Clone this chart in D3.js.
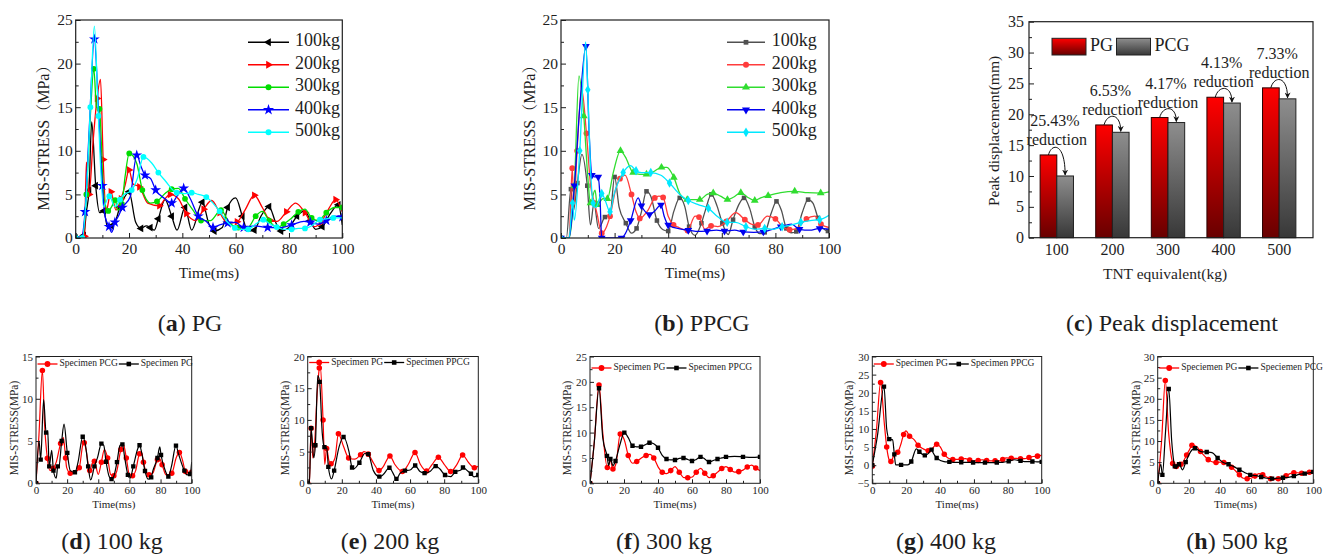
<!DOCTYPE html>
<html><head><meta charset="utf-8">
<script src="https://cdn.jsdelivr.net/npm/d3@7"></script>
<style>
html,body{margin:0;padding:0;background:#fff;}
svg{display:block;}
text{font-family:'Liberation Serif','Times New Roman','Noto Serif CJK SC','Noto Sans CJK SC',serif;fill:#1e1e1e;}
</style></head><body>
<svg id="fig" width="1326" height="556"></svg>
<script>
// ---------- shared tick values ----------
const timeTicks = [0, 20, 40, 60, 80, 100];
const timeMinor = [10, 30, 50, 70, 90];
const massLabels = ["100kg", "200kg", "300kg", "400kg", "500kg"];

// ---------- (a) PG: Mises stress histories [time ms, stress MPa] ----------
const pg100 = [[0,0],[2,0],[3,0.3],[4,3],[5,5.5],[6,13.3],[7.5,6],[9,2.9],[10.5,3.1],[12,1.2],[13.5,1.4],[15,2],[16.5,3.5],[18,4.5],[20,5.3],[22.5,1.8],[24.5,1.1],[26.5,1.4],[28,1.2],[29.5,0.9],[31,2.2],[33.5,4.4],[36,2.5],[38,0.9],[41,3.5],[43.5,0.9],[47.5,4.1],[50,1.6],[52,0.8],[55,1.2],[57,3.5],[60,4.6],[62.5,2.5],[64.5,0.8],[67,0.9],[69.5,2.5],[72.5,3.6],[75,1.8],[77,0.8],[80,1.2],[83,2.5],[86,3.1],[88,2],[90,1],[92.5,1.3],[95.5,2.8],[98.5,3.8],[100,1.5]];
const pg200 = [[0,0],[2,0],[3.3,0.2],[4,8.7],[5,5],[6.5,11],[8,16],[9.3,18.2],[10.3,9],[11.4,3.05],[13.2,5.3],[15.1,3.2],[17,4.5],[18.5,6],[20,7.8],[21.5,6.2],[23.9,5.85],[27,4],[31.4,3.7],[33.5,4.5],[35.4,5],[38.5,4.5],[41.5,2.8],[45,2],[48,3.3],[51,4.3],[54,2.9],[57,1.7],[60.5,1.85],[63.5,3.2],[67,4.9],[70,3.5],[73,2],[75.5,1.9],[79,3],[82.5,4],[86,2.9],[89.5,1.3],[92,1.8],[95,3.4],[97.5,4.4],[100,3]];
const pg300 = [[0,0],[2.5,0],[4,5],[5.5,14],[6.8,19.4],[7.8,15],[8.9,14.8],[10.5,5],[12.2,3.1],[13.5,3.6],[14.8,4.35],[15.8,3.2],[17.3,3.9],[18.5,7],[20.1,9.7],[22.9,8.55],[25,5.5],[28.1,4],[30.5,4.2],[33.5,5.1],[36,5.6],[38.5,5.7],[41,4.5],[44,3.2],[47,2],[50.5,2],[54.5,3.2],[57.5,1.8],[61,1.2],[64.7,1.25],[67.5,2.5],[70,3.05],[72.5,2],[75.5,1.2],[78,1.6],[80.7,2.2],[83.5,3],[86,3.3],[88.5,2.3],[91,2],[94,2.9],[97,3.5],[100,3.5]];
const pg400 = [[0,0],[2,0],[3.5,3],[5,12],[7,22.8],[8.5,15],[10,6],[11,2.5],[12.5,1.3],[13.5,0.65],[14.7,1.8],[16,2.5],[17.5,3.5],[20.4,4.7],[22.9,9.5],[24.5,8.2],[26,7.2],[28.1,6.8],[30,5.5],[33.5,4.5],[36,4],[38,4.8],[40.5,5.7],[43,4.5],[46,2.5],[49,1.9],[51.5,1.2],[54,1.5],[57,1.7],[60,1.8],[63,1.2],[67,1.4],[72,1.2],[77,1.2],[81,1.5],[85.6,1.9],[88,1.8],[91,1.6],[94,2],[97,2.5],[100,2.4]];
const pg500 = [[0,0],[1.5,0],[2.5,0],[4,5],[5.5,15],[7,24.3],[8.5,14],[10.4,3.6],[12.6,4.8],[14.7,3.6],[16.6,4.4],[17.9,4.9],[21,5.5],[23.1,6.8],[25.4,9.3],[28.5,8.6],[31,7.5],[33.5,6.6],[37.9,5.2],[41,5.1],[43.5,5.2],[46,5],[49,4.7],[51.5,4],[54,3.05],[57,1.8],[59.7,1.15],[62,1],[64.7,1],[67.5,1.6],[70.4,2.1],[73,1.6],[75.4,1.25],[78,1],[81,1],[83.5,1.1],[86,1.1],[89,1.5],[91.6,2.1],[94,2.2],[96.6,2.3],[100,2.3]];

// ---------- (b) PPCG ----------
const ppcg100 = [[0,0],[2,0],[3.7,5.6],[4.5,3],[6.1,6.3],[7.8,9.6],[9.8,6],[11,1.5],[12.3,4],[14,1.1],[16.4,2.4],[18.3,2.6],[20,7],[21.7,3.5],[24.2,1.7],[26.3,0.55],[28.2,1.1],[30,3],[31.9,5.35],[33.5,4.8],[35.8,2],[38.1,0.95],[40,0.8],[42.1,3.05],[44.3,4.6],[46.2,3.6],[47.8,1.3],[50,0.3],[52.4,1.7],[53.9,3.2],[56.1,5],[58.3,3.6],[60.2,1.7],[62.4,0.4],[64.2,2.1],[66.3,3.8],[68.3,4.6],[70.4,3.4],[72.3,1.3],[74.2,0.5],[76,0.65],[78.5,2.9],[80.4,4.2],[82.2,3.2],[84.1,1.1],[86,0.6],[87.8,0.75],[90,2.9],[92.2,4.4],[94,4],[95.9,2.3],[97.8,1.1],[99.6,0.8]];
const ppcg200 = [[0,0],[3,0],[4.2,8],[4.8,3.6],[6,10],[7.7,17.1],[9.5,12],[11.1,5.9],[12.5,4],[13.5,2.7],[15.2,0.55],[17,1.3],[18.3,2.5],[20.5,5.7],[22,6.8],[23.9,7.2],[26.3,5],[28,3],[29.4,2.25],[32.5,3.2],[35,4.6],[36.5,4.8],[38.1,4.65],[40,2.5],[42,1.5],[44,1.2],[47.2,0.85],[50,2.5],[51.5,2.4],[53.7,1],[56,1.4],[58.5,1.3],[61.7,1.9],[65.2,2.9],[68.6,2.1],[71,1.6],[73.5,1.5],[77,2.5],[80,2.2],[83,1.2],[85.3,0.95],[88,1.1],[91.6,2.2],[94.7,2.5],[97,1.6],[100,1.2]];
const ppcg300 = [[0,0],[3,0],[5,6],[6.7,18.6],[8.5,14],[10,7],[11,4],[12.7,5.5],[13.5,3.8],[15.6,4.5],[17.3,4.5],[19.5,7.5],[22.2,10],[24,9.3],[26.9,7.5],[29.5,7.3],[31.9,7.3],[34.5,7.6],[37.5,8.1],[39.5,8.1],[42.1,6.95],[44.5,5],[47.1,4.4],[49.5,4.4],[51.8,4.4],[54.5,5],[56.8,5.15],[59.5,4.8],[62.1,4.4],[64.5,4.7],[67.1,5.2],[69.5,4.7],[72.3,4.3],[74.5,4.6],[77.3,4.85],[82,5.2],[87.2,5.35],[92,5.2],[96.9,5.15],[100,5.3]];
const ppcg400 = [[0,0],[3,0],[5,6],[7,15],[9.3,22],[10.5,12],[11.5,7.2],[12.5,7],[13.9,7],[14.5,5],[15.2,0],[19,0],[22.6,0],[24,0.5],[26,2],[28.8,4.6],[30,3.7],[31.5,3],[33,2.7],[35,3.1],[37.3,3.8],[38.5,2.5],[40,1.5],[44.3,1.05],[47.5,0.9],[51.5,0.75],[54.5,0.8],[58,0.9],[61,0.8],[64.8,0.9],[68,0.7],[71.9,0.65],[75.5,0.7],[78.9,1],[82,1.3],[86,1.6],[89,1],[92.8,0.9],[96.5,1.1],[100,1]];
const ppcg500 = [[0,0],[3,0],[4.3,4],[5,2.05],[7,10],[9.2,22.5],[10,17],[11,8],[12,4],[13,3.5],[15.2,5.1],[16.5,4.3],[18.3,3],[19.8,5],[23.2,7.5],[26,8.3],[28,7.7],[30,7.5],[33.5,7.5],[37.3,7.2],[40.5,6.3],[44.3,5],[47.5,4.3],[51.4,3.8],[55,3.4],[58.6,2.4],[62,1.8],[65.2,1.8],[69,1.3],[72.3,1],[76,1.1],[79.1,1],[82.5,1.3],[86,1.5],[89.5,1.8],[93,2],[96.5,2.1],[100,2.6]];

// ---------- (c) peak displacement ----------
const tntCategories = ["100", "200", "300", "400", "500"];
const peakPG = [13.41, 18.27, 19.47, 22.76, 24.28];
const peakPCG = [10.0, 17.08, 18.66, 21.82, 22.50];
const reductionText = ["25.43%", "6.53%", "4.17%", "4.13%", "7.33%"];
const dispTicks = [0, 5, 10, 15, 20, 25, 30, 35];

// ---------- (d)-(h) paired comparisons ----------
const d100PCG = [[0,0],[1.9,5.7],[4.1,13.35],[5.5,7],[7.3,2.95],[9,1.5],[11.1,1.77],[13,2.5],[15.8,4.7],[17.6,5.4],[19,3],[19.7,1.85],[22,1.2],[25,1.3],[27.8,1.85],[30,4.5],[31,4.8],[32.1,4],[34.5,1.5],[36,2.3],[37.5,2.6],[40,1.06],[42,2.5],[43.9,4],[46,3],[48,1],[50,0.9],[51.8,1.4],[54.5,4],[56.1,4.6],[58,3],[60,1],[62,0.9],[64,1.5],[66.5,3.5],[67.9,3.6],[69,2.5],[71,1.2],[72.6,1],[75,1.2],[78,2.8],[79.2,2.95],[81,2.2],[83.5,1],[87.2,1.2],[90,3],[92.1,3.65],[94,2.8],[96,1.4],[98,1.2],[100,1.3]];
const d100PG = [[0,0],[2,5],[3,2.8],[4.9,9.9],[6.5,6],[7.5,6.2],[8.5,2],[10.1,3.9],[11.2,1.5],[13,0.6],[14,2],[14.6,1.85],[16.5,5],[18,7],[20.1,3.6],[22,1.5],[25,1.3],[27,2.5],[30,5.5],[31.8,4.5],[33.5,2],[35.1,0.4],[37.5,2],[39.6,3.1],[42,4.7],[43.5,4.5],[45,2.55],[47,0.8],[48.5,0.5],[49.7,0.7],[52,2.5],[54,4.5],[55.5,4.6],[57,3],[59,1],[60.4,0.6],[62.5,2],[65.3,4.05],[66.5,4.5],[68,3.5],[70,1.45],[72,0.5],[74,0.7],[75,1.45],[78,3],[79.5,4.3],[80.3,3.35],[83,1.5],[85,0.8],[87,2],[89.9,4.45],[91.5,3.5],[95.3,1.5],[97,1],[99,1.1],[100,2.5]];
const e200PG = [[0,0],[1,0.5],[2,8.7],[3,4],[4,6],[5.5,14],[6.8,18.2],[7.2,19],[9,10],[10,3],[11.1,5.5],[12.5,3.5],[13.7,3.1],[16,4],[18,7.8],[20.9,5.9],[24,4],[27.7,3.8],[31,4.5],[33,5],[35.5,4.6],[39,3],[41.8,2],[44,2.5],[48.2,4.3],[51,3],[55.5,1.85],[59,3],[62.9,4.85],[66,3],[69.7,1.95],[73,3],[76.6,4.1],[80,3],[83.8,1.85],[87.5,3],[90.8,4.45],[94.5,3.2],[97.7,2.45],[100,2.7]];
const e200PPCG = [[0,0],[1,0],[2,8.7],[3.5,4],[4.5,6],[5.9,17],[7,16],[8.5,8],[9.8,5.7],[11.2,5.5],[12.1,2.6],[14,0.7],[15.5,2],[18.4,5.75],[21,7.3],[24.2,5],[26,2.5],[27,2.3],[30.3,3.25],[33.5,4.7],[35.5,4.6],[38.5,2],[42,1.05],[44,1.3],[47.9,2.45],[50,1.6],[52,0.7],[54.1,1.55],[57,2],[60,2.1],[63,2.8],[65.8,1.85],[68.5,1.6],[71.7,1.85],[75,2.7],[77.5,2.25],[80.5,1.3],[83.8,1.05],[86.5,1.8],[89.8,2.1],[91,2.5],[93.5,2],[95.7,1.5],[97.5,1],[100,1.3]];
const f300PG = [[0,0],[2.5,8],[5.3,19.4],[7.5,10],[10.2,3.1],[12,4.5],[13.5,2.8],[15.3,3.9],[17.8,9.7],[20.2,8.55],[22.5,5.5],[25.1,3.95],[27.5,4.3],[30.4,5.05],[33,5.5],[35.3,5.7],[37.5,5],[40.2,3.15],[42.5,2.2],[45.1,1.9],[47.5,2.5],[50,3.3],[52.5,2.2],[55.3,1.1],[57.5,1.1],[60.2,1.25],[62.5,2.2],[65.1,2.95],[67.5,2],[70.2,1.1],[72.5,1.5],[75.1,2.2],[77.5,2.9],[80,3.3],[82.5,2.7],[85,2.2],[87.5,2.3],[90,2.6],[92.5,3.2],[95.1,3.6],[97.5,3],[100,2.5]];
const f300PPCG = [[0,0],[2.5,8],[5.3,18.75],[7.5,9],[10,5.4],[11,3.5],[12,4.8],[13.5,3.5],[15,4.4],[17.5,7.5],[20.2,10],[22.5,9],[25,7.4],[27.5,7.2],[30,7.2],[32.5,7.6],[35,8],[37.5,7.8],[40,7],[42.5,5.5],[45,4.8],[47.5,4.6],[50,4.6],[52.5,4.9],[55,5],[57.5,4.7],[60,4.4],[62.5,4.7],[65,5.2],[67.5,4.8],[70,4.2],[72.5,4.5],[75,4.8],[77.5,5],[80,5.2],[85,5.3],[90,5.2],[95,5.1],[100,5.2]];
const g400PG = [[0,-0.3],[2.5,10],[4.9,22.8],[7,12],[8.5,5],[10,1.45],[11,1],[13,3],[15,3.55],[17,6],[18.5,8.5],[19.9,9.45],[22,8],[24.8,7],[27,5.5],[30.1,4.5],[33,4],[35,4.4],[38,5.8],[40,5.1],[42.5,3],[44.9,1.9],[47.5,1.6],[50,1.6],[52.5,1.7],[55,1.8],[57.5,1.4],[60,1.2],[62.5,1.3],[65,1.5],[67.5,1.3],[70,1.2],[72.5,1.2],[75,1.2],[77,1.6],[79,2],[82,1.9],[85,1.9],[87.5,1.8],[90,1.8],[92.5,2.1],[95,2.4],[97.5,2.5],[100,2.8]];
const g400PPCG = [[0,0],[3,8],[6.9,21.7],[8.5,10],[10,7.2],[12,7],[13,3],[13.8,0.1],[17,0.1],[20.9,0.1],[23,1],[26,4.5],[27.8,3.7],[29.5,3],[31,2.7],[33,3.2],[35,4.3],[35.5,3.8],[38,2],[42.3,1],[45.5,0.9],[49,0.8],[52.5,0.8],[56,0.8],[59.5,0.75],[63,0.7],[66.5,0.7],[70,0.7],[73.5,0.75],[77,0.8],[80.5,1.1],[84,1.5],[87.5,1.2],[91,1],[94.5,1],[98,0.9],[100,0.9]];
const h500PG = [[0,0],[2.5,10],[4.9,24.3],[7,12],[9.6,4.7],[11,3.5],[12,4],[14,5],[15,4.5],[17,5.5],[18.6,6.7],[20.5,8],[22,9],[25,8.7],[27.5,7.5],[30,6.5],[32.5,5.6],[34.9,5.1],[37.5,4.9],[40,5],[42.5,4.9],[45,4.7],[47.5,3.8],[50.1,2.9],[52.5,2],[55,1.2],[57.5,1.1],[60,1.2],[62.5,1.7],[65,2.3],[67.5,2],[70,1.5],[72.5,1.1],[75,0.9],[77.5,1.1],[80,1.4],[82.5,1.8],[85,2.3],[87.5,2.5],[90,2.5],[92.5,2.4],[95,2.3],[97.5,2.6],[100,3]];
const h500PCG = [[0,0],[2,4.5],[3,2],[5,12],[7.1,22.3],[9,10],[11,4],[12,3.5],[13.7,4.5],[16,3.2],[18,5],[21.2,7.5],[24,8.3],[27.8,7.5],[31.5,7.4],[34.9,7.25],[38.5,6],[41.8,5],[45.5,4.5],[49,3.95],[52.5,3.2],[56.1,2.5],[59.5,2],[63.2,1.8],[66.5,1.5],[70,1.2],[73.5,1.1],[77,1.2],[80.5,1.3],[84,1.4],[87.5,1.7],[91,2.1],[94.5,2.3],[98,2.5],[100,2.7]];

// ================= drawing =================
const svg = d3.select("#fig");
const ink = "#1e1e1e";
const defs = svg.append("defs");

function styleAxis(sel, font, sw) {
  sel.select(".domain").remove();
  sel.selectAll("line").attr("stroke", ink).attr("stroke-width", sw);
  sel.selectAll("text").attr("font-size", font).attr("fill", ink);
}

function drawAxes(g, x, y, a) {
  const bottom = y.range()[0], left = x.range()[0];
  const mk = (axis, tr) => g.append("g").attr("transform", tr).call(axis);
  styleAxis(mk(d3.axisBottom(x).tickValues(a.xMajor).tickSize(-a.major).tickSizeOuter(0).tickPadding(a.xPad), `translate(0,${bottom})`), a.font, a.sw);
  styleAxis(mk(d3.axisBottom(x).tickValues(a.xMinor).tickSize(-a.minor).tickSizeOuter(0).tickFormat(""), `translate(0,${bottom})`), a.font, a.sw);
  styleAxis(mk(d3.axisLeft(y).tickValues(a.yMajor).tickSize(-a.major).tickSizeOuter(0).tickPadding(a.yPad), `translate(${left},0)`), a.font, a.sw);
  styleAxis(mk(d3.axisLeft(y).tickValues(a.yMinor).tickSize(-a.minor).tickSizeOuter(0).tickFormat(""), `translate(${left},0)`), a.font, a.sw);
  const [x0, x1] = x.range(), [y0, y1] = y.range();
  g.append("rect").attr("x", x0).attr("y", y1).attr("width", x1 - x0).attr("height", y0 - y1)
    .attr("fill", "none").attr("stroke", ink).attr("stroke-width", a.frame);
}

function halfSteps(ticks) {
  const out = [];
  for (let i = 0; i < ticks.length - 1; i++) out.push((ticks[i] + ticks[i + 1]) / 2);
  return out;
}

function symbolSize(s, base) {
  return s.symbol === d3.symbolSquare ? base * 0.8 : s.symbol === d3.symbolStar ? base * 1.4 : base;
}

function drawLinePanel(c) {
  const x = d3.scaleLinear().domain([0, 100]).range([c.left, c.right]);
  const y = d3.scaleLinear().domain([c.yTicks[0], c.yTicks[c.yTicks.length - 1]]).range([c.bottom, c.top]);
  const g = svg.append("g");
  const clipId = "clip-" + c.id;
  defs.append("clipPath").attr("id", clipId).append("rect")
    .attr("x", c.left).attr("y", c.top - 3).attr("width", c.right - c.left).attr("height", c.bottom - c.top + 3);
  const plot = g.append("g").attr("clip-path", `url(#${clipId})`);
  const line = d3.line().x(d => x(d[0])).y(d => y(d[1])).curve(d3.curveMonotoneX);
  c.series.forEach(s => {
    plot.append("path").datum(s.values).attr("d", line).attr("fill", "none")
      .attr("stroke", s.color).attr("stroke-width", c.lw).attr("stroke-linejoin", "round");
    plot.selectAll(null).data(s.values.filter((d, i) => i % c.stride === 0)).join("path")
      .attr("transform", d => `translate(${x(d[0])},${y(d[1])}) rotate(${s.rot || 0})`)
      .attr("d", d3.symbol().type(s.symbol).size(symbolSize(s, c.msize))).attr("fill", s.color);
  });
  drawAxes(g, x, y, {
    xMajor: timeTicks, xMinor: timeMinor, yMajor: c.yTicks, yMinor: halfSteps(c.yTicks),
    major: c.major, minor: c.minor, xPad: c.xPad, yPad: c.yPad, font: c.tickFont, sw: 1, frame: c.frame
  });
  // axis titles
  g.append("text").attr("x", (c.left + c.right) / 2).attr("y", c.xTitleY).attr("text-anchor", "middle")
    .attr("font-size", c.titleFont).text("Time(ms)");
  g.append("text").attr("transform", `translate(${c.yTitleX},${c.yTitleY}) rotate(-90)`).attr("text-anchor", "middle")
    .attr("dominant-baseline", "middle").attr("font-size", c.yTitleFont).text(c.yTitle);
  return { g, x, y };
}

// ---- legends ----
function verticalLegend(g, series, L) {
  series.forEach((s, i) => {
    const yy = L.y0 + i * L.dy;
    g.append("line").attr("x1", L.x1).attr("x2", L.x2).attr("y1", yy).attr("y2", yy)
      .attr("stroke", s.color).attr("stroke-width", 1.5);
    g.append("path").attr("transform", `translate(${(L.x1 + L.x2) / 2},${yy}) rotate(${s.rot || 0})`)
      .attr("d", d3.symbol().type(s.symbol).size(symbolSize(s, 28))).attr("fill", s.color);
    g.append("text").attr("x", L.tx).attr("y", yy).attr("dominant-baseline", "middle")
      .attr("font-size", L.font).text(s.name);
  });
}

function rowLegend(g, series, L) {
  let cx = L.x;
  series.forEach(s => {
    g.append("line").attr("x1", cx).attr("x2", cx + 20).attr("y1", L.y).attr("y2", L.y)
      .attr("stroke", s.color).attr("stroke-width", 1.3);
    g.append("path").attr("transform", `translate(${cx + 10},${L.y})`)
      .attr("d", d3.symbol().type(s.symbol).size(symbolSize(s, 26))).attr("fill", s.color);
    const t = g.append("text").attr("x", cx + 22).attr("y", L.y).attr("dominant-baseline", "middle")
      .attr("font-size", L.font).text(s.name);
    cx += 22 + t.node().getComputedTextLength() + 1;
  });
}

// ---------- (a) ----------
const aSeries = [
  { name: massLabels[0], values: pg100, color: "#000000", symbol: d3.symbolTriangle, rot: -90 },
  { name: massLabels[1], values: pg200, color: "#ff0000", symbol: d3.symbolTriangle, rot: 90 },
  { name: massLabels[2], values: pg300, color: "#00dd00", symbol: d3.symbolCircle },
  { name: massLabels[3], values: pg400, color: "#0000ff", symbol: d3.symbolStar },
  { name: massLabels[4], values: pg500, color: "#00ffff", symbol: d3.symbolCircle }
];
const bigCfg = {
  top: 20, bottom: 238, yTicks: [0, 5, 10, 15, 20, 25], stride: 2, msize: 26, lw: 1.3,
  major: 5, minor: 3, xPad: 5, yPad: 3, tickFont: 15.5, titleFont: 15.5, yTitleFont: 16, frame: 1.2,
  yTitle: "MIS-STRESS（MPa）", xTitleY: 278, yTitleY: 134
};
const pa = drawLinePanel(Object.assign({}, bigCfg, { id: "a", left: 75.7, right: 342.3, series: aSeries, yTitleX: 45 }));
verticalLegend(pa.g, aSeries, { x1: 248, x2: 289, tx: 295, y0: 42.3, dy: 22.5, font: 18 });

// ---------- (b) ----------
const bSeries = [
  { name: massLabels[0], values: ppcg100, color: "#505050", symbol: d3.symbolSquare },
  { name: massLabels[1], values: ppcg200, color: "#ff3c3c", symbol: d3.symbolCircle },
  { name: massLabels[2], values: ppcg300, color: "#30dd30", symbol: d3.symbolTriangle },
  { name: massLabels[3], values: ppcg400, color: "#0000f0", symbol: d3.symbolTriangle, rot: 180 },
  { name: massLabels[4], values: ppcg500, color: "#00e8ff", symbol: d3.symbolDiamond }
];
const pb = drawLinePanel(Object.assign({}, bigCfg, { id: "b", left: 561, right: 829, series: bSeries, yTitleX: 531.7 }));
verticalLegend(pb.g, bSeries, { x1: 727, x2: 765, tx: 771.7, y0: 42.3, dy: 22.5, font: 18 });

// ---------- (c) bars ----------
(function () {
  const gr = defs.append("linearGradient").attr("id", "gradPG").attr("x1", 0).attr("y1", 0).attr("x2", 0).attr("y2", 1);
  gr.append("stop").attr("offset", 0).attr("stop-color", "#ff0000");
  gr.append("stop").attr("offset", 1).attr("stop-color", "#680000");
  const gg = defs.append("linearGradient").attr("id", "gradPCG").attr("x1", 0).attr("y1", 0).attr("x2", 0).attr("y2", 1);
  gg.append("stop").attr("offset", 0).attr("stop-color", "#8e8e8e");
  gg.append("stop").attr("offset", 1).attr("stop-color", "#383838");
  defs.append("marker").attr("id", "arrowHead").attr("viewBox", "0 0 10 10").attr("refX", 9).attr("refY", 5)
    .attr("markerWidth", 6).attr("markerHeight", 6).attr("markerUnits", "userSpaceOnUse").attr("orient", "auto")
    .append("path").attr("d", "M0,0 L10,5 L0,10 L3,5 z").attr("fill", "#111");

  const g = svg.append("g");
  const x = d3.scaleBand().domain(tntCategories).range([1029, 1307]).paddingInner(0.4).paddingOuter(0.2);
  const y = d3.scaleLinear().domain([0, 35]).range([237.7, 21.7]);
  const half = x.bandwidth() / 2;
  const rows = tntCategories.map((c, i) => ({ c, pg: peakPG[i], pcg: peakPCG[i], txt: reductionText[i] }));

  g.selectAll(".pg").data(rows).join("rect").attr("x", d => x(d.c)).attr("width", half)
    .attr("y", d => y(d.pg)).attr("height", d => y(0) - y(d.pg))
    .attr("fill", "url(#gradPG)").attr("stroke", "#2a0000").attr("stroke-width", 1);
  g.selectAll(".pcg").data(rows).join("rect").attr("x", d => x(d.c) + half).attr("width", half)
    .attr("y", d => y(d.pcg)).attr("height", d => y(0) - y(d.pcg))
    .attr("fill", "url(#gradPCG)").attr("stroke", "#222").attr("stroke-width", 1);

  // curved arrows from PG to PCG tops
  g.selectAll(".arr").data(rows).join("path")
    .attr("d", d => {
      const rc = x(d.c) + half / 2, gc = x(d.c) + half * 1.5;
      const rt = y(d.pg), gt = y(d.pcg);
      return `M${rc},${rt} C${rc + 3},${rt - 12} ${gc},${rt - 13} ${gc},${gt - 1}`;
    })
    .attr("fill", "none").attr("stroke", "#111").attr("stroke-width", 1).attr("marker-end", "url(#arrowHead)");
  g.selectAll(".pct").data(rows).join("text").attr("x", d => x(d.c) + half - 2).attr("y", d => y(d.pg) - 29)
    .attr("text-anchor", "middle").attr("font-size", 16).text(d => d.txt);
  g.selectAll(".red").data(rows).join("text").attr("x", d => x(d.c) + half).attr("y", d => y(d.pg) - 10)
    .attr("text-anchor", "middle").attr("font-size", 16).text("reduction");

  // axes
  const ya = g.append("g").attr("transform", "translate(1029,0)")
    .call(d3.axisLeft(y).tickValues(dispTicks).tickSize(-5).tickSizeOuter(0).tickPadding(5));
  styleAxis(ya, 16, 1);
  const ym = g.append("g").attr("transform", "translate(1029,0)")
    .call(d3.axisLeft(y).tickValues(halfSteps(dispTicks)).tickSize(-3).tickSizeOuter(0).tickFormat(""));
  styleAxis(ym, 16, 1);
  const xa = g.append("g").attr("transform", "translate(0,237.7)")
    .call(d3.axisBottom(x).tickSize(0).tickPadding(6));
  styleAxis(xa, 16, 1);
  g.append("rect").attr("x", 1029).attr("y", 21.7).attr("width", 1313 - 1029).attr("height", 216)
    .attr("fill", "none").attr("stroke", ink).attr("stroke-width", 1.2);

  // legend
  [["PG", "url(#gradPG)", 1052], ["PCG", "url(#gradPCG)", 1116.5]].forEach(([lab, fill, lx]) => {
    g.append("rect").attr("x", lx).attr("y", 38.3).attr("width", 34).attr("height", 16.7)
      .attr("fill", fill).attr("stroke", "#222").attr("stroke-width", 1);
    g.append("text").attr("x", lx + 38).attr("y", 47).attr("dominant-baseline", "middle")
      .attr("font-size", 18).text(lab);
  });

  g.append("text").attr("x", 1165).attr("y", 275).attr("text-anchor", "middle").attr("dominant-baseline", "middle")
    .attr("font-size", 15.5).text("TNT equivalent(kg)");
  g.append("text").attr("transform", "translate(995,131) rotate(-90)").attr("text-anchor", "middle")
    .attr("dominant-baseline", "middle").attr("font-size", 15.5).text("Peak displacement(mm)");
})();

// ---------- (d)-(h) ----------
const smallCfg = {
  top: 356.5, bottom: 483.3, stride: 2, msize: 24, lw: 1.2, major: 4, minor: 2.5, xPad: 3, yPad: 3,
  tickFont: 11, titleFont: 11, yTitleFont: 11.5, frame: 1, xTitleY: 508, yTitleY: 428
};
const red = "#ff0000", blk = "#000000";
const smallPanels = [
  { id: "d", left: 36, right: 191.7, yTicks: [0, 5, 10, 15], yTitle: "MIS-STRESS(MPa)", yTitleX: 15,
    series: [{ name: "Specimen PCG", values: d100PCG, color: red, symbol: d3.symbolCircle },
             { name: "Specimen PG", values: d100PG, color: blk, symbol: d3.symbolSquare }], ly: 364 },
  { id: "e", left: 307.7, right: 478.3, yTicks: [0, 5, 10, 15, 20], yTitle: "MIS-STRESS(MPa)", yTitleX: 286.7,
    series: [{ name: "Specimen PG", values: e200PG, color: red, symbol: d3.symbolCircle },
             { name: "Specimen PPCG", values: e200PPCG, color: blk, symbol: d3.symbolSquare }], ly: 362.5 },
  { id: "f", left: 590, right: 760, yTicks: [0, 5, 10, 15, 20, 25], yTitle: "MIS-STRESS(MPa)", yTitleX: 568.3,
    series: [{ name: "Specimen PG", values: f300PG, color: red, symbol: d3.symbolCircle },
             { name: "Specimen PPCG", values: f300PPCG, color: blk, symbol: d3.symbolSquare }], ly: 368 },
  { id: "g", left: 872.3, right: 1041.7, yTicks: [-5, 0, 5, 10, 15, 20, 25, 30], yTitle: "MSI-STRESS(MPa)", yTitleX: 850,
    series: [{ name: "Specimen PG", values: g400PG, color: red, symbol: d3.symbolCircle },
             { name: "Specimen PPCG", values: g400PPCG, color: blk, symbol: d3.symbolSquare }], ly: 364 },
  { id: "h", left: 1157.7, right: 1313.3, yTicks: [0, 5, 10, 15, 20, 25, 30], yTitle: "MSI-STRESS(MPa)", yTitleX: 1137.3,
    series: [{ name: "Speciemen PG", values: h500PG, color: red, symbol: d3.symbolCircle },
             { name: "Speciemen PCG", values: h500PCG, color: blk, symbol: d3.symbolSquare }], ly: 368 }
];
smallPanels.forEach(p => {
  const r = drawLinePanel(Object.assign({}, smallCfg, p));
  rowLegend(r.g, p.series, { x: p.left + 1.5, y: p.ly, font: 9.5 });
});

// ---------- captions ----------
function caption(cx, cy, letter, rest) {
  const t = svg.append("text").attr("x", cx).attr("y", cy).attr("text-anchor", "middle").attr("font-size", 24);
  t.append("tspan").text("(");
  t.append("tspan").attr("font-weight", "bold").text(letter);
  t.append("tspan").text(") " + rest);
}
caption(190, 331, "a", "PG");
caption(702, 331, "b", "PPCG");
caption(1172, 331, "c", "Peak displacement");
caption(112, 549, "d", "100 kg");
caption(390, 549, "e", "200 kg");
caption(664, 549, "f", "300 kg");
caption(946, 549, "g", "400 kg");
caption(1237, 549, "h", "500 kg");
</script></body></html>
